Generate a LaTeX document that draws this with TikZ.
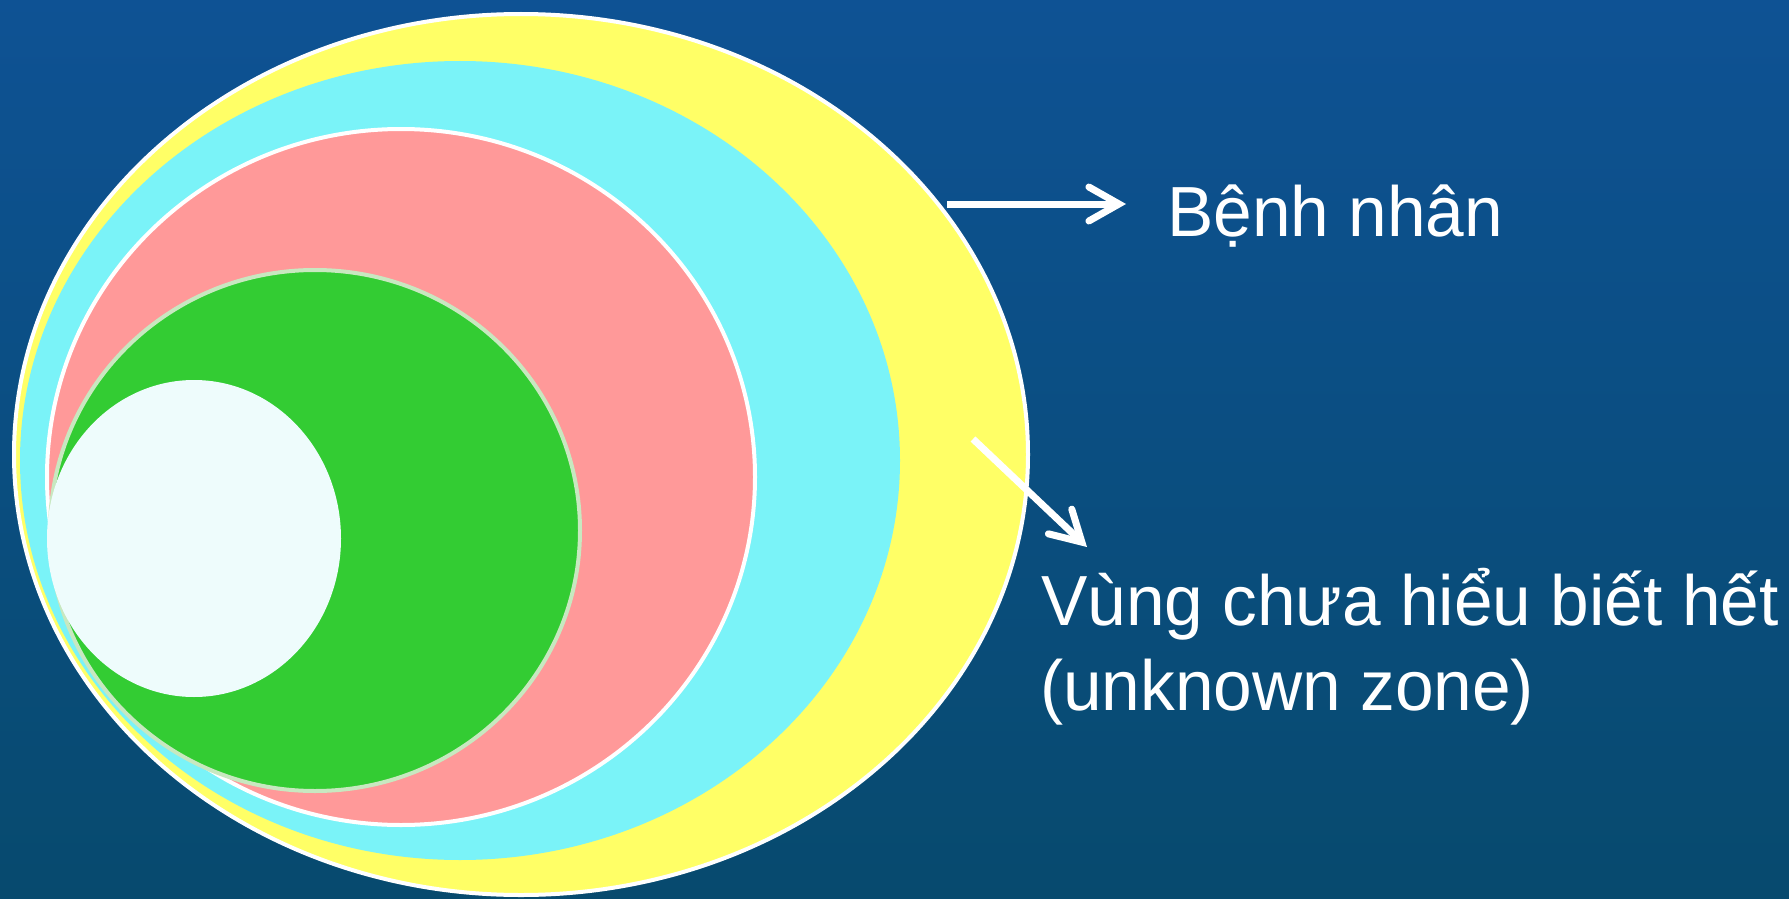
\documentclass[tikz,border=0pt]{standalone}
\usepackage{fontspec}
\setmainfont{Liberation Sans}
\newfontfamily\lblfont[FakeStretch=0.978]{Liberation Sans}
\usetikzlibrary{shapes.geometric,arrows.meta}
\definecolor{bgtop}{RGB}{14,82,148}
\definecolor{bgbot}{RGB}{7,74,110}
\definecolor{zyellow}{RGB}{255,255,102}
\definecolor{zcyan}{RGB}{122,243,248}
\definecolor{zpink}{RGB}{255,153,153}
\definecolor{zgreen}{RGB}{51,204,51}
\definecolor{zgreenrim}{RGB}{200,232,192}
\definecolor{zwhite}{RGB}{238,252,252}
\begin{document}
\begin{tikzpicture}[x=1pt,y=-1pt,
  zone/.style={ellipse, inner sep=0pt, outer sep=0pt},
  lbl/.style={text=white, inner sep=0pt, anchor=base west, font=\lblfont\fontsize{71pt}{85pt}\selectfont},
  pointer/.style={draw=white, line width=7pt, -{Straight Barb[length=30pt,width=34pt,line cap=round,line join=miter]}}]
  \shade[top color=bgtop, bottom color=bgbot] (0,0) rectangle (1789,899);
  \useasboundingbox (0,0) rectangle (1789,899);
  % zones
  \node[zone, fill=zyellow, draw=white, line width=4pt, minimum width=1014pt, minimum height=881pt] (patient) at (521,454.5) {};
  \node[zone, fill=zcyan, minimum width=880pt, minimum height=799pt] (zcy) at (460,460.5) {};
  \node[zone, fill=zpink, draw=white, line width=4pt, minimum width=708pt, minimum height=696pt] (zpk) at (401,477) {};
  \node[zone, fill=zgreen, draw=zgreenrim, line width=4pt, minimum width=530pt, minimum height=521pt] (zgr) at (315,530.5) {};
  \node[zone, fill=zwhite, minimum width=294pt, minimum height=317pt] (zwh) at (194,538.5) {};
  % labels
  \node[lbl] (benh) at (1167,236) {Bệnh nhân};
  \node[lbl] (vung) at (1041,625) {Vùng chưa hiểu biết hết};
  \node[lbl] (unk) at (1040,710) {(unknown zone)};
  % connectors
  \coordinate (a1s) at (947,204);
  \coordinate (a1e) at (1126,204);
  \coordinate (a2s) at (973,439);
  \coordinate (a2e) at (1087,547);
  \draw[pointer] (a1s) -- (a1e);
  \draw[pointer] (a2s) -- (a2e);
\end{tikzpicture}
\end{document}
